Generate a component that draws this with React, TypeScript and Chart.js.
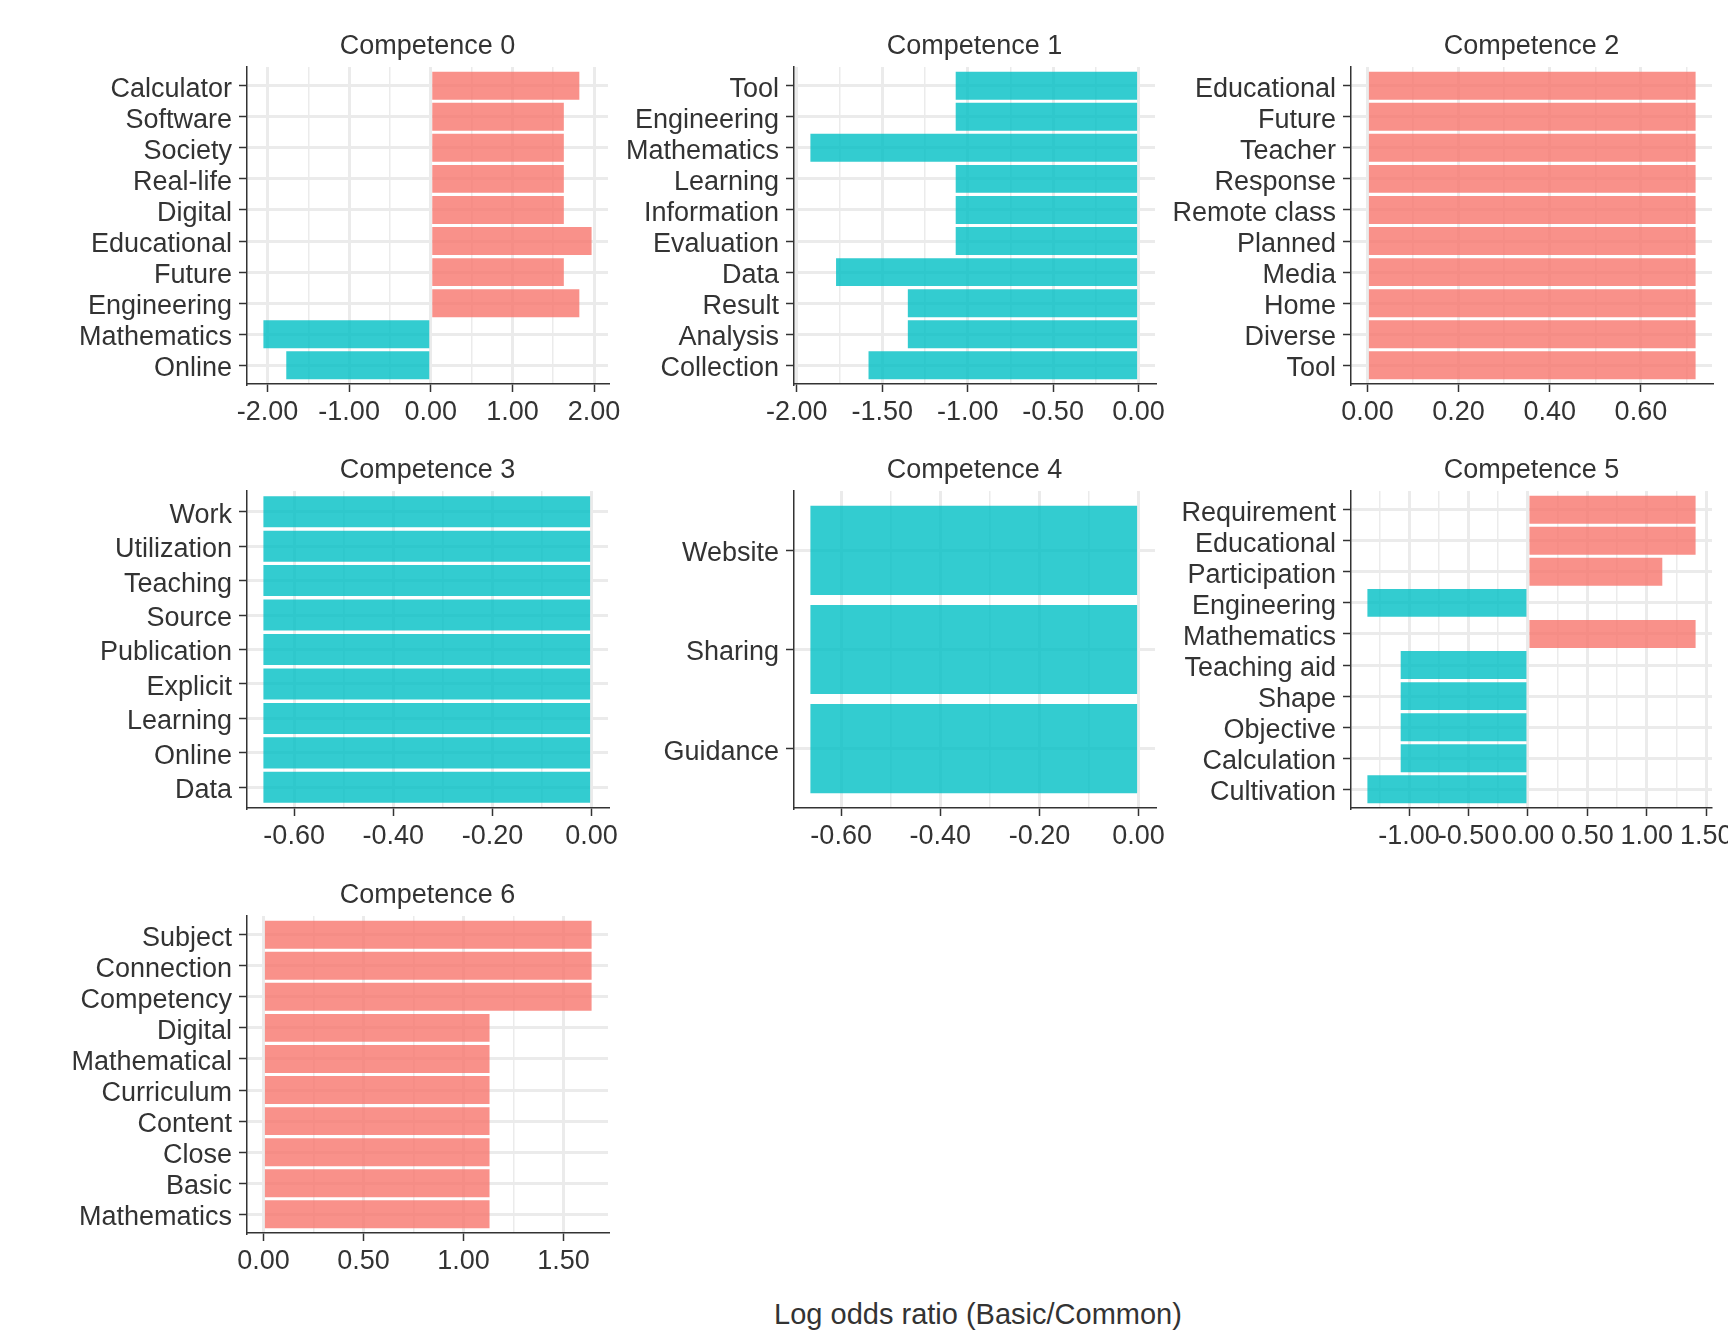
import React, { useEffect, useRef } from "react";
import { Chart, registerables } from "chart.js";

Chart.register(...registerables);

// ---------------- data ----------------
const titles = [
  "Competence 0",
  "Competence 1",
  "Competence 2",
  "Competence 3",
  "Competence 4",
  "Competence 5",
  "Competence 6",
];

const c0Labels = ["Calculator", "Software", "Society", "Real-life", "Digital", "Educational", "Future", "Engineering", "Mathematics", "Online"];
const c0Values = [1.82, 1.63, 1.63, 1.63, 1.63, 1.97, 1.63, 1.82, -2.05, -1.77];
const c0Ticks = [-2, -1, 0, 1, 2];

const c1Labels = ["Tool", "Engineering", "Mathematics", "Learning", "Information", "Evaluation", "Data", "Result", "Analysis", "Collection"];
const c1Values = [-1.07, -1.07, -1.92, -1.07, -1.07, -1.07, -1.77, -1.35, -1.35, -1.58];
const c1Ticks = [-2, -1.5, -1, -0.5, 0];

const c2Labels = ["Educational", "Future", "Teacher", "Response", "Remote class", "Planned", "Media", "Home", "Diverse", "Tool"];
const c2Values = [0.72, 0.72, 0.72, 0.72, 0.72, 0.72, 0.72, 0.72, 0.72, 0.72];
const c2Ticks = [0, 0.2, 0.4, 0.6];

const c3Labels = ["Work", "Utilization", "Teaching", "Source", "Publication", "Explicit", "Learning", "Online", "Data"];
const c3Values = [-0.662, -0.662, -0.662, -0.662, -0.662, -0.662, -0.662, -0.662, -0.662];
const c3Ticks = [-0.6, -0.4, -0.2, 0];

const c4Labels = ["Website", "Sharing", "Guidance"];
const c4Values = [-0.662, -0.662, -0.662];
const c4Ticks = [-0.6, -0.4, -0.2, 0];

const c5Labels = ["Requirement", "Educational", "Participation", "Engineering", "Mathematics", "Teaching aid", "Shape", "Objective", "Calculation", "Cultivation"];
const c5Values = [1.41, 1.41, 1.13, -1.35, 1.41, -1.07, -1.07, -1.07, -1.07, -1.35];
const c5Ticks = [-1, -0.5, 0, 0.5, 1, 1.5];

const c6Labels = ["Subject", "Connection", "Competency", "Digital", "Mathematical", "Curriculum", "Content", "Close", "Basic", "Mathematics"];
const c6Values = [1.64, 1.64, 1.64, 1.13, 1.13, 1.13, 1.13, 1.13, 1.13, 1.13];
const c6Ticks = [0, 0.5, 1, 1.5];

const xAxisTitle = "Log odds ratio (Basic/Common)";

// ---------------- style / layout ----------------
const POS_COLOR = "rgba(248,118,109,0.8)";
const NEG_COLOR = "rgba(0,191,196,0.8)";
const GRID = "#EBEBEB";
const INK = "#333333";
const FONT = "'Liberation Sans', Arial, Helvetica, sans-serif";

const COL_LEFT = [247, 794, 1351];
const ROW_TOP = [67, 491, 916];
const PLOT_W = 361;
const PLOT_H = 317;
const YAXIS_W = 240;
const TOP_SPACE = 80;
const RIGHT_PAD = 40;
const XAXIS_H = 50;
const BOTTOM_PAD = 10;
const TITLE_SIZE = 27;
const TITLE_LH = 1.2;
const TITLE_PB = 4.7;

type Panel = {
  title: string;
  labels: string[];
  values: number[];
  ticks: number[];
  col: number;
  row: number;
};

const PANELS: Panel[] = [
  { title: titles[0], labels: c0Labels, values: c0Values, ticks: c0Ticks, col: 0, row: 0 },
  { title: titles[1], labels: c1Labels, values: c1Values, ticks: c1Ticks, col: 1, row: 0 },
  { title: titles[2], labels: c2Labels, values: c2Values, ticks: c2Ticks, col: 2, row: 0 },
  { title: titles[3], labels: c3Labels, values: c3Values, ticks: c3Ticks, col: 0, row: 1 },
  { title: titles[4], labels: c4Labels, values: c4Values, ticks: c4Ticks, col: 1, row: 1 },
  { title: titles[5], labels: c5Labels, values: c5Values, ticks: c5Ticks, col: 2, row: 1 },
  { title: titles[6], labels: c6Labels, values: c6Values, ticks: c6Ticks, col: 0, row: 2 },
];

const CANVAS_W = YAXIS_W + PLOT_W + RIGHT_PAD;
const CANVAS_H = TOP_SPACE + PLOT_H + XAXIS_H + BOTTOM_PAD;

function PanelChart({ p }: { p: Panel }) {
  const ref = useRef<HTMLCanvasElement>(null);

  useEffect(() => {
    if (!ref.current) return;
    const lo = Math.min(0, ...p.values);
    const hi = Math.max(0, ...p.values);
    const pad = (hi - lo) * 0.05;
    const xmin = lo - pad;
    const xmax = hi + pad;
    const step = p.ticks[1] - p.ticks[0];
    const tickObjs: { value: number; minor?: boolean }[] = [];
    p.ticks.forEach((t) => {
      if (t >= xmin && t <= xmax) tickObjs.push({ value: t });
    });
    const mids = [p.ticks[0] - step / 2, ...p.ticks.map((t) => t + step / 2)];
    mids.forEach((m) => {
      if (m >= xmin && m <= xmax) tickObjs.push({ value: m, minor: true });
    });
    tickObjs.sort((a, b) => a.value - b.value);

    const n = p.labels.length;
    const yTicks = p.labels.map((_, i) => ({ value: i }));
    const titleH = TITLE_SIZE * TITLE_LH + TITLE_PB;

    const chart = new Chart(ref.current, {
      type: "bar",
      data: {
        datasets: [
          {
            data: p.values.map((v, i) => ({ x: v, y: i })) as any,
            backgroundColor: p.values.map((v) => (v >= 0 ? POS_COLOR : NEG_COLOR)),
            borderWidth: 0,
            barPercentage: 0.9,
            categoryPercentage: 1.0,
          },
        ],
      },
      options: {
        indexAxis: "y",
        responsive: false,
        animation: false,
        events: [],
        layout: {
          padding: { left: 0, top: TOP_SPACE - titleH, right: RIGHT_PAD, bottom: BOTTOM_PAD },
        },
        plugins: {
          legend: { display: false },
          tooltip: { enabled: false },
          title: {
            display: true,
            text: p.title,
            fullSize: false,
            color: INK,
            font: { family: FONT, size: TITLE_SIZE, weight: "normal", lineHeight: TITLE_LH },
            padding: { top: 0, bottom: TITLE_PB },
          },
        },
        scales: {
          x: {
            type: "linear",
            position: "bottom",
            min: xmin,
            max: xmax,
            bounds: "data",
            offset: false,
            afterBuildTicks: (s: any) => {
              s.ticks = tickObjs.map((t) => ({ ...t }));
            },
            afterFit: (s: any) => {
              s.height = XAXIS_H;
            },
            grid: {
              offset: false,
              color: GRID,
              lineWidth: (c: any) => (c.tick && c.tick.minor ? 1.5 : 3),
              tickColor: (c: any) => (c.tick && c.tick.minor ? "rgba(0,0,0,0)" : INK),
              tickWidth: 1.5,
              tickLength: 8,
              drawTicks: true,
            },
            border: { display: true, color: INK, width: 1.5 },
            ticks: {
              autoSkip: false,
              maxRotation: 0,
              minRotation: 0,
              padding: 4,
              color: INK,
              font: { family: FONT, size: 27, lineHeight: 1.2 },
              callback: (v: any, i: number, ticks: any[]) =>
                ticks[i] && ticks[i].minor ? "" : Number(v).toFixed(2),
            },
          },
          y: {
            type: "linear",
            position: "left",
            reverse: true,
            min: -0.6,
            max: n - 1 + 0.6,
            bounds: "data",
            offset: false,
            beginAtZero: false,
            afterBuildTicks: (s: any) => {
              s.ticks = yTicks.map((t) => ({ ...t }));
            },
            afterFit: (s: any) => {
              s.width = YAXIS_W;
            },
            grid: {
              offset: false,
              color: GRID,
              lineWidth: 3,
              tickColor: INK,
              tickWidth: 1.5,
              tickLength: 8,
              drawTicks: true,
            },
            border: { display: true, color: INK, width: 1.5 },
            ticks: {
              autoSkip: false,
              padding: 7,
              labelOffset: 3.5,
              color: INK,
              font: { family: FONT, size: 27, lineHeight: 1.2 },
              callback: (v: any) => p.labels[Math.round(Number(v))] ?? "",
            },
          },
        },
      } as any,
    });
    return () => chart.destroy();
  }, [p]);

  return (
    <canvas
      ref={ref}
      width={CANVAS_W}
      height={CANVAS_H}
      style={{
        position: "absolute",
        left: COL_LEFT[p.col] - YAXIS_W,
        top: ROW_TOP[p.row] - TOP_SPACE,
        width: CANVAS_W,
        height: CANVAS_H,
      }}
    />
  );
}

export default function App() {
  return (
    <div
      style={{
        position: "absolute",
        left: 0,
        top: 0,
        width: 1728,
        height: 1344,
        overflow: "hidden",
        background: "#ffffff",
      }}
    >
      {PANELS.map((p) => (
        <PanelChart key={p.title} p={p} />
      ))}
      <div
        style={{
          position: "absolute",
          left: 978 - 500,
          width: 1000,
          top: 1297,
          textAlign: "center",
          fontFamily: FONT,
          fontSize: 29,
          lineHeight: "34px",
          color: INK,
          whiteSpace: "nowrap",
        }}
      >
        {xAxisTitle}
      </div>
    </div>
  );
}
